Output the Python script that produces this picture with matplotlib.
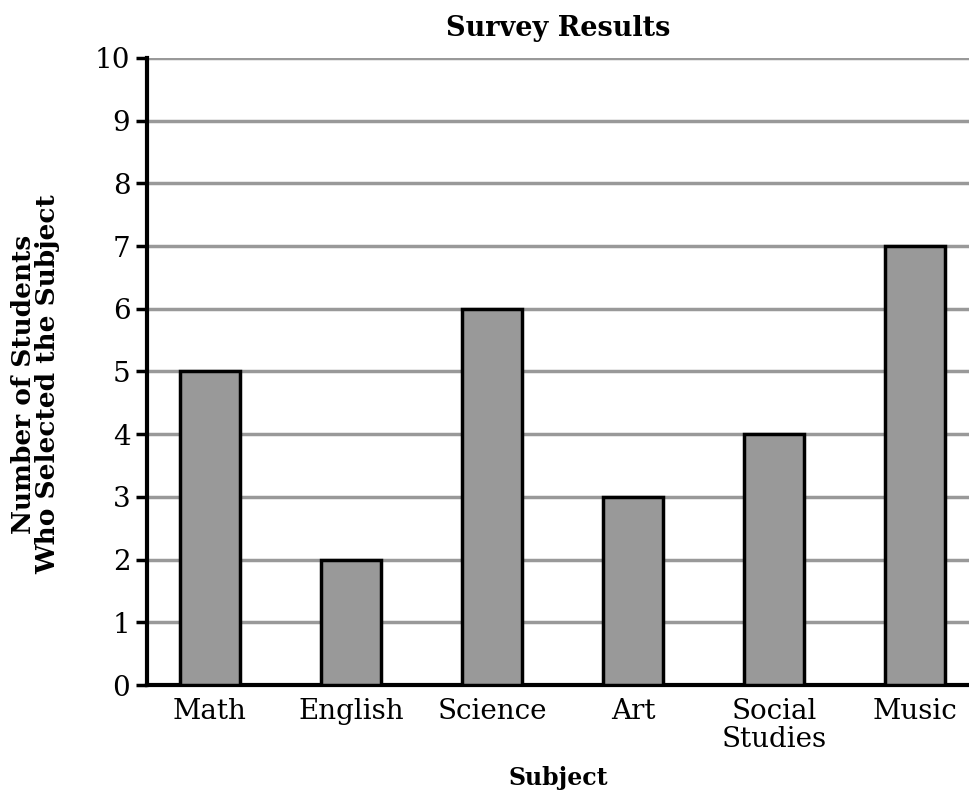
import numpy as np
from matplotlib import pyplot as plt

subjects = ['Math', 'English', 'Science', 'Art', 'Social\nStudies', 'Music']
counts = [5, 2, 6, 3, 4, 7]
y_ticks = list(range(0, 11))

plt.rcParams['font.family'] = ['DejaVu Serif']

fig = plt.figure(figsize=(9.7, 7.91), dpi=100)
ax = fig.add_axes([0.1515, 0.134, 0.8485, 0.7927])

x = np.arange(len(subjects))
ax.bar(x, counts, width=0.43, color='#999999', edgecolor='black', linewidth=2.5, zorder=3)

ax.set_xlim(-0.447, 5.39)
ax.set_ylim(0, 10)
ax.set_yticks(y_ticks)
ax.yaxis.grid(True, color='#999999', linewidth=2.5, zorder=0)
ax.set_axisbelow(True)

ax.set_xticks(x)
ax.set_xticklabels(subjects, fontsize=20, linespacing=1.05)
ax.tick_params(axis='x', length=0, pad=9)
ax.tick_params(axis='y', length=8, width=2.5, labelsize=20, pad=4)

for side in ['top', 'right']:
    ax.spines[side].set_visible(False)
for side in ['left', 'bottom']:
    ax.spines[side].set_linewidth(3)

ax.set_title('Survey Results', fontsize=19.5, fontweight='bold', pad=16)
ax.set_xlabel('Subject', fontsize=17, fontweight='bold', labelpad=10)
ax.set_ylabel('Number of Students\nWho Selected the Subject', fontsize=19,
              fontweight='bold', labelpad=26, linespacing=1.0)
ax.yaxis.set_label_coords(-0.105, 0.48)

fig.savefig('out.png', dpi=100)
